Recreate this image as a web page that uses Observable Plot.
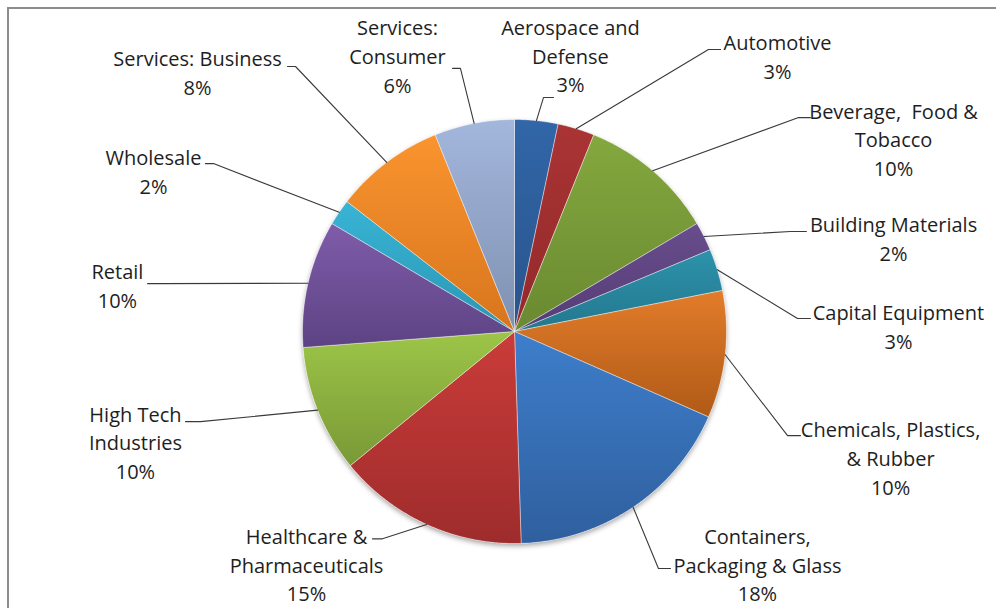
<!DOCTYPE html>
<html>
<head>
<meta charset="utf-8">
<script src="https://cdn.jsdelivr.net/npm/d3@7"></script>
<script src="https://cdn.jsdelivr.net/npm/@observablehq/plot@0.6"></script>
<style>
  html, body { margin: 0; padding: 0; background: #fff; }
  #wrap { position: relative; width: 996px; height: 608px; overflow: hidden; background: #fff; }
  #border { position: absolute; left: 7px; top: 7px; width: 1200px; height: 800px; border: 2px solid #8c8c8c; }
  #chart { position: absolute; left: 0; top: 0; }
</style>
</head>
<body>
<div id="wrap"><div id="border"></div><div id="chart"></div></div>
<script>
// ---- data ----
const sectors = [
  "Aerospace and\nDefense",
  "Automotive",
  "Beverage,\u00a0 Food &\nTobacco",
  "Building Materials",
  "Capital Equipment",
  "Chemicals, Plastics,\n& Rubber",
  "Containers,\nPackaging & Glass",
  "Healthcare &\nPharmaceuticals",
  "High Tech\nIndustries",
  "Retail",
  "Wholesale",
  "Services: Business",
  "Services:\nConsumer"
];
const shares = [3.3, 2.8, 10.4, 2.2, 3.2, 9.7, 17.9, 14.6, 9.7, 9.7, 2.0, 8.4, 6.1];
const topColors = ["#3166a8", "#aa3434", "#84a83e", "#684c8c", "#2d92ab", "#e27c2a", "#3e7ecb", "#ca3c39", "#9dc548", "#7f5caa", "#39b4d5", "#f9942f", "#a3b6dc"];
const bottomColors = ["#29548c", "#93292a", "#6a8931", "#563d76", "#23788e", "#b05a17", "#2f5f9e", "#9e2c2c", "#799936", "#5d4383", "#2b96b3", "#d8751d", "#7f91b1"];

// label layout, in pie-radius units relative to the pie centre
const labelCentre = [[0.264, 1.307], [1.241, 1.304], [1.788, 0.912], [1.788, 0.445], [1.811, 0.030], [1.774, -0.591], [1.146, -1.094], [-0.981, -1.094], [-1.788, -0.517], [-1.873, 0.221], [-1.703, 0.761], [-1.495, 1.228], [-0.552, 1.306]];
const leaderElbow = [[0.137, 1.104], [0.915, 1.330], [1.340, 1.009], [1.302, 0.472], [1.335, 0.061], [1.288, -0.491], [0.679, -1.118], [-0.623, -0.978], [-1.481, -0.425], [-1.670, 0.226], [-1.420, 0.792], [-1.033, 1.250], [-0.255, 1.241]];
const leaderEnd = [0.184, 0.972, 1.396, 1.377, 1.396, 1.349, 0.736, -0.670, -1.552, -1.731, -1.458, -1.071, -0.292];

// ---- derived geometry ----
const total = d3.sum(shares);
const slices = [];
const rim = [];
let cum = 0;
shares.forEach((v, i) => {
  const a0 = cum / total * 2 * Math.PI;
  cum += v;
  const a1 = cum / total * 2 * Math.PI;
  const pts = [{x: 0, y: 0}];
  const n = Math.max(2, Math.ceil((a1 - a0) / (Math.PI / 360)));
  for (let t = 0; t <= n; t++) {
    const a = a0 + (a1 - a0) * t / n;
    pts.push({x: Math.sin(a), y: Math.cos(a)});
    rim.push({x: Math.sin(a), y: Math.cos(a)});
  }
  pts.push({x: 0, y: 0});
  slices.push({i, a0, a1, mid: (a0 + a1) / 2, pts});
});

const leaders = [];
slices.forEach((s, i) => {
  leaders.push({k: i, x: Math.sin(s.mid), y: Math.cos(s.mid)});
  leaders.push({k: i, x: leaderElbow[i][0], y: leaderElbow[i][1]});
  leaders.push({k: i, x: leaderEnd[i], y: leaderElbow[i][1]});
});

const labels = sectors.map((name, i) => ({
  x: labelCentre[i][0],
  y: labelCentre[i][1],
  text: name + "\n" + Math.round(shares[i] / total * 100) + "%"
}));

const R = 212; // pie radius in px
const plot = Plot.plot({
  width: 996,
  height: 608,
  margin: 0,
  style: {fontFamily: "'Open Sans', Lato, sans-serif", fontSize: "19px", background: "transparent"},
  x: {domain: [-514 / R, 482 / R], axis: null},
  y: {domain: [-277 / R, 331 / R], axis: null},
  marks: [
    Plot.line(rim, {x: "x", y: "y", fill: "#ffffff", stroke: "none", curve: "linear"}),
    ...slices.map(s => Plot.line(s.pts, {
      x: "x", y: "y", fill: `url(#grad${s.i})`,
      stroke: "#ffffff", strokeWidth: 0.8, strokeOpacity: 0.5, curve: "linear"
    })),
    Plot.line(leaders, {x: "x", y: "y", z: "k", stroke: "#3a3a3a", strokeWidth: 1.1, curve: "linear"}),
    Plot.text(labels, {
      x: "x", y: "y", text: "text",
      textAnchor: "middle", lineAnchor: "middle", lineHeight: 1.44,
      fontSize: 20, fill: "#1e1e1e"
    })
  ]
});

const svg = d3.select(plot);
const defs = svg.insert("defs", ":first-child");
slices.forEach(s => {
  const g = defs.append("linearGradient").attr("id", `grad${s.i}`)
    .attr("x1", 0).attr("y1", 0).attr("x2", 0).attr("y2", 1);
  g.append("stop").attr("offset", "0%").attr("stop-color", topColors[s.i]);
  g.append("stop").attr("offset", "100%").attr("stop-color", bottomColors[s.i]);
});
const f = defs.append("filter").attr("id", "pieShadow")
  .attr("x", "-10%").attr("y", "-10%").attr("width", "120%").attr("height", "125%");
f.append("feDropShadow").attr("dx", 0).attr("dy", 2.5).attr("stdDeviation", 2.5)
  .attr("flood-color", "#000").attr("flood-opacity", 0.35);
svg.select("g[aria-label='line']").attr("filter", "url(#pieShadow)");
document.getElementById("chart").appendChild(plot);
</script>
</body>
</html>
